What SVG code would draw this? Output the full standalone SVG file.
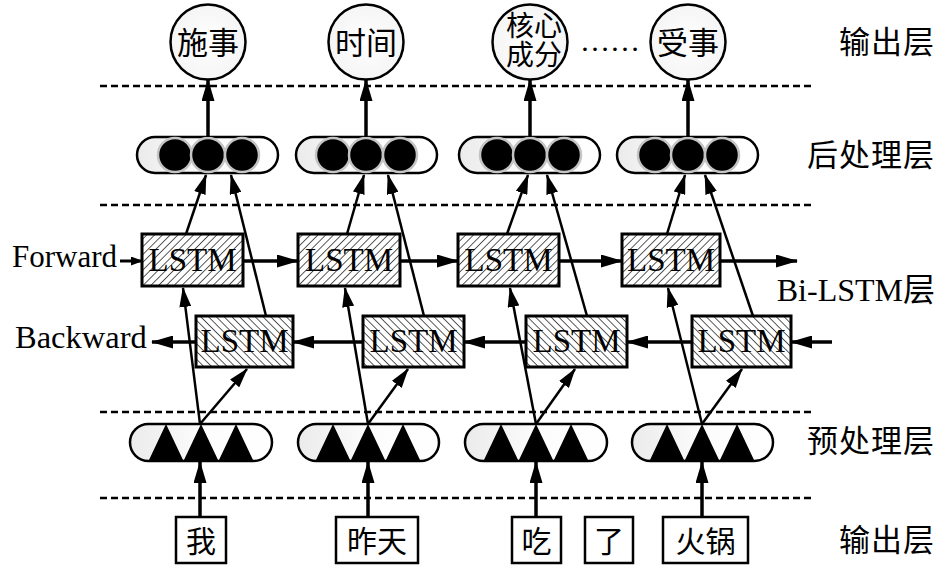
<svg xmlns="http://www.w3.org/2000/svg" width="945" height="567" viewBox="0 0 945 567">
<style>
.dash{stroke:#000;stroke-width:2.5;stroke-dasharray:7 4;fill:none}
.cap{fill:url(#capg);stroke:#000;stroke-width:2.5}
.dot{fill:#000;stroke:#c4c4c4;stroke-width:2.5}
.tri{fill:#000}
.out{fill:url(#circg);stroke:#000;stroke-width:2.5}
.box{fill:#fff;stroke:#000;stroke-width:3}
.word{fill:#fff;stroke:#000;stroke-width:2.5}
.lat{font-family:"Liberation Serif","Noto Sans CJK SC",serif;fill:#000}
.zh{font-family:"Liberation Serif","Noto Sans CJK SC",serif;fill:#000}
.arr{stroke:#000;stroke-width:3.5;fill:none;marker-end:url(#ah)}
.diag{stroke:#000;stroke-width:2.5;fill:none;marker-end:url(#ah2)}
</style>
<defs>
<linearGradient id="capg" x1="0" y1="0" x2="1" y2="0"><stop offset="0" stop-color="#ebebeb"/><stop offset="0.5" stop-color="#fcfcfc"/><stop offset="1" stop-color="#ffffff"/></linearGradient>
<radialGradient id="circg"><stop offset="0" stop-color="#ffffff"/><stop offset="1" stop-color="#f5f5f5"/></radialGradient>
<pattern id="hf" patternUnits="userSpaceOnUse" width="5.5" height="5.5" patternTransform="rotate(45)"><line x1="0" y1="0" x2="0" y2="5.5" stroke="#000" stroke-width="1.3"/></pattern>
<pattern id="hb" patternUnits="userSpaceOnUse" width="5.5" height="5.5" patternTransform="rotate(-45)"><line x1="0" y1="0" x2="0" y2="5.5" stroke="#000" stroke-width="1.3"/></pattern>
<marker id="ah" markerUnits="userSpaceOnUse" markerWidth="22" markerHeight="13" refX="21" refY="6.5" orient="auto"><path d="M0,0 L22,6.5 L0,13 z" fill="#000"/></marker>
<marker id="ah2" markerUnits="userSpaceOnUse" markerWidth="20" markerHeight="12" refX="19" refY="6" orient="auto"><path d="M0,0 L20,6 L0,12 z" fill="#000"/></marker>
<marker id="ahs" markerUnits="userSpaceOnUse" markerWidth="12" markerHeight="9" refX="11" refY="4.5" orient="auto"><path d="M0,0 L12,4.5 L0,9 z" fill="#000"/></marker>
</defs>
<rect width="945" height="567" fill="#fff"/>

<g id="separators">
<line class="dash" x1="100" y1="86" x2="815" y2="86"/>
<line class="dash" x1="100" y1="205" x2="815" y2="205"/>
<line class="dash" x1="100" y1="412" x2="815" y2="412"/>
<line class="dash" x1="100" y1="498" x2="815" y2="498"/>
</g>

<g id="layer-labels">
<text class="zh" x="935" y="42" font-size="31" text-anchor="end" dominant-baseline="central" letter-spacing="1">输出层</text>
<text class="zh" x="935" y="155" font-size="31" text-anchor="end" dominant-baseline="central" letter-spacing="1">后处理层</text>
<text class="lat" x="935" y="301" font-size="32" text-anchor="end">Bi-LSTM层</text>
<text class="zh" x="935" y="441" font-size="31" text-anchor="end" dominant-baseline="central" letter-spacing="1">预处理层</text>
<text class="zh" x="935" y="540" font-size="31" text-anchor="end" dominant-baseline="central" letter-spacing="1">输出层</text>
</g>

<g id="out1"><circle class="out" cx="208" cy="42" r="37.5"/><text class="zh" x="208" y="43" font-size="31" text-anchor="middle" dominant-baseline="central">施事</text></g>
<g id="out2"><circle class="out" cx="366" cy="42" r="37.5"/><text class="zh" x="366" y="43" font-size="31" text-anchor="middle" dominant-baseline="central">时间</text></g>
<g id="out3"><circle class="out" cx="530" cy="42" r="37.5"/><text class="zh" x="534" y="26" font-size="28" text-anchor="middle" dominant-baseline="central">核心</text><text class="zh" x="534" y="55" font-size="28" text-anchor="middle" dominant-baseline="central">成分</text></g>
<g id="ellipsis"><text class="zh" x="610" y="40" font-size="30" text-anchor="middle" dominant-baseline="central">……</text></g>
<g id="out4"><circle class="out" cx="688" cy="42" r="37.5"/><text class="zh" x="688" y="43" font-size="31" text-anchor="middle" dominant-baseline="central">受事</text></g>

<g id="post1"><rect class="cap" x="137" y="137" width="141" height="36" rx="18"/><circle class="dot" cx="175" cy="155" r="17"/><circle class="dot" cx="208" cy="155" r="17"/><circle class="dot" cx="242" cy="155" r="17"/></g>
<g id="post2"><rect class="cap" x="296" y="137" width="141" height="36" rx="18"/><circle class="dot" cx="333" cy="155" r="17"/><circle class="dot" cx="366" cy="155" r="17"/><circle class="dot" cx="400" cy="155" r="17"/></g>
<g id="post3"><rect class="cap" x="459" y="137" width="141" height="36" rx="18"/><circle class="dot" cx="497" cy="155" r="17"/><circle class="dot" cx="530" cy="155" r="17"/><circle class="dot" cx="564" cy="155" r="17"/></g>
<g id="post4"><rect class="cap" x="617" y="137" width="141" height="36" rx="18"/><circle class="dot" cx="655" cy="155" r="17"/><circle class="dot" cx="688" cy="155" r="17"/><circle class="dot" cx="722" cy="155" r="17"/></g>

<g id="fw1"><rect class="box" x="142" y="234" width="101" height="52"/><rect x="142" y="234" width="101" height="52" fill="url(#hf)"/><text class="lat" x="192.5" y="271" font-size="33" text-anchor="middle">LSTM</text></g>
<g id="fw2"><rect class="box" x="298" y="234" width="102" height="52"/><rect x="298" y="234" width="102" height="52" fill="url(#hf)"/><text class="lat" x="349" y="271" font-size="33" text-anchor="middle">LSTM</text></g>
<g id="fw3"><rect class="box" x="458" y="234" width="101" height="52"/><rect x="458" y="234" width="101" height="52" fill="url(#hf)"/><text class="lat" x="508.5" y="271" font-size="33" text-anchor="middle">LSTM</text></g>
<g id="fw4"><rect class="box" x="622" y="234" width="98" height="52"/><rect x="622" y="234" width="98" height="52" fill="url(#hf)"/><text class="lat" x="671" y="271" font-size="33" text-anchor="middle">LSTM</text></g>

<g id="bw1"><rect class="box" x="196" y="316" width="97" height="51"/><rect x="196" y="316" width="97" height="51" fill="url(#hb)"/><text class="lat" x="244.5" y="352" font-size="33" text-anchor="middle">LSTM</text></g>
<g id="bw2"><rect class="box" x="363" y="316" width="101" height="51"/><rect x="363" y="316" width="101" height="51" fill="url(#hb)"/><text class="lat" x="413.5" y="352" font-size="33" text-anchor="middle">LSTM</text></g>
<g id="bw3"><rect class="box" x="526" y="316" width="101" height="51"/><rect x="526" y="316" width="101" height="51" fill="url(#hb)"/><text class="lat" x="576.5" y="352" font-size="33" text-anchor="middle">LSTM</text></g>
<g id="bw4"><rect class="box" x="692" y="316" width="99" height="51"/><rect x="692" y="316" width="99" height="51" fill="url(#hb)"/><text class="lat" x="741.5" y="352" font-size="33" text-anchor="middle">LSTM</text></g>

<g id="label-forward"><text class="lat" x="12" y="267" font-size="31">Forward</text></g>
<g id="label-backward"><text class="lat" x="15" y="348" font-size="32.5">Backward</text></g>

<g id="pre1"><rect class="cap" x="130" y="424" width="142" height="37" rx="18.5"/><path class="tri" d="M148.5,461 L166,424 L183.5,461 Z M183.5,461 L201,424 L218.5,461 Z M218.5,461 L236,424 L253.5,461 Z"/></g>
<g id="pre2"><rect class="cap" x="298" y="424" width="141" height="37" rx="18.5"/><path class="tri" d="M315.5,461 L333,424 L350.5,461 Z M350.5,461 L368,424 L385.5,461 Z M385.5,461 L403,424 L420.5,461 Z"/></g>
<g id="pre3"><rect class="cap" x="465" y="424" width="142" height="37" rx="18.5"/><path class="tri" d="M483.5,461 L501,424 L518.5,461 Z M518.5,461 L536,424 L553.5,461 Z M553.5,461 L571,424 L588.5,461 Z"/></g>
<g id="pre4"><rect class="cap" x="632" y="424" width="141" height="37" rx="18.5"/><path class="tri" d="M649.5,461 L667,424 L684.5,461 Z M684.5,461 L702,424 L719.5,461 Z M719.5,461 L737,424 L754.5,461 Z"/></g>

<g id="w1"><rect class="word" x="176" y="517" width="50" height="46"/><text class="zh" x="201" y="541" font-size="30" text-anchor="middle" dominant-baseline="central">我</text></g>
<g id="w2"><rect class="word" x="336" y="517" width="82" height="46"/><text class="zh" x="377" y="541" font-size="30" text-anchor="middle" dominant-baseline="central">昨天</text></g>
<g id="w3"><rect class="word" x="512" y="517" width="49" height="46"/><text class="zh" x="536.5" y="541" font-size="30" text-anchor="middle" dominant-baseline="central">吃</text></g>
<g id="w4"><rect class="word" x="585" y="517" width="48" height="46"/><text class="zh" x="609" y="541" font-size="30" text-anchor="middle" dominant-baseline="central">了</text></g>
<g id="w5"><rect class="word" x="663" y="517" width="85" height="46"/><text class="zh" x="705.5" y="541" font-size="30" text-anchor="middle" dominant-baseline="central">火锅</text></g>

<g id="connectors">
<line class="arr" x1="208" y1="137" x2="208" y2="80"/>
<line class="arr" x1="366" y1="137" x2="366" y2="80"/>
<line class="arr" x1="530" y1="137" x2="530" y2="80"/>
<line class="arr" x1="688" y1="137" x2="688" y2="80"/>
<line class="arr" x1="200" y1="517" x2="200" y2="462"/>
<line class="arr" x1="368" y1="517" x2="368" y2="462"/>
<line class="arr" x1="536" y1="517" x2="536" y2="462"/>
<line class="arr" x1="702" y1="517" x2="702" y2="462"/>
<line x1="120" y1="261" x2="142" y2="261" stroke="#000" stroke-width="3" marker-end="url(#ahs)"/>
<line class="arr" x1="243" y1="261" x2="298" y2="261"/>
<line class="arr" x1="400" y1="261" x2="458" y2="261"/>
<line class="arr" x1="559" y1="261" x2="622" y2="261"/>
<line class="arr" x1="720" y1="261" x2="797" y2="261"/>
<line class="arr" x1="832" y1="342" x2="791" y2="342"/>
<line class="arr" x1="692" y1="342" x2="627" y2="342"/>
<line class="arr" x1="526" y1="342" x2="464" y2="342"/>
<line class="arr" x1="363" y1="342" x2="293" y2="342"/>
<line class="arr" x1="196" y1="342" x2="152" y2="342"/>
<line class="diag" x1="200" y1="424" x2="183" y2="288"/>
<line class="diag" x1="200" y1="424" x2="247" y2="369"/>
<line class="diag" x1="368" y1="424" x2="345" y2="288"/>
<line class="diag" x1="368" y1="424" x2="408" y2="369"/>
<line class="diag" x1="536" y1="424" x2="510" y2="288"/>
<line class="diag" x1="536" y1="424" x2="575" y2="369"/>
<line class="diag" x1="702" y1="424" x2="668" y2="288"/>
<line class="diag" x1="702" y1="424" x2="742" y2="369"/>
<line class="diag" x1="186" y1="234" x2="206" y2="175"/>
<line class="diag" x1="266" y1="316" x2="231" y2="175"/>
<line class="diag" x1="347" y1="234" x2="364" y2="175"/>
<line class="diag" x1="424" y1="316" x2="388" y2="175"/>
<line class="diag" x1="507" y1="234" x2="528" y2="175"/>
<line class="diag" x1="587" y1="316" x2="547" y2="175"/>
<line class="diag" x1="667" y1="234" x2="685" y2="175"/>
<line class="diag" x1="753" y1="316" x2="705" y2="175"/>
</g>
</svg>
